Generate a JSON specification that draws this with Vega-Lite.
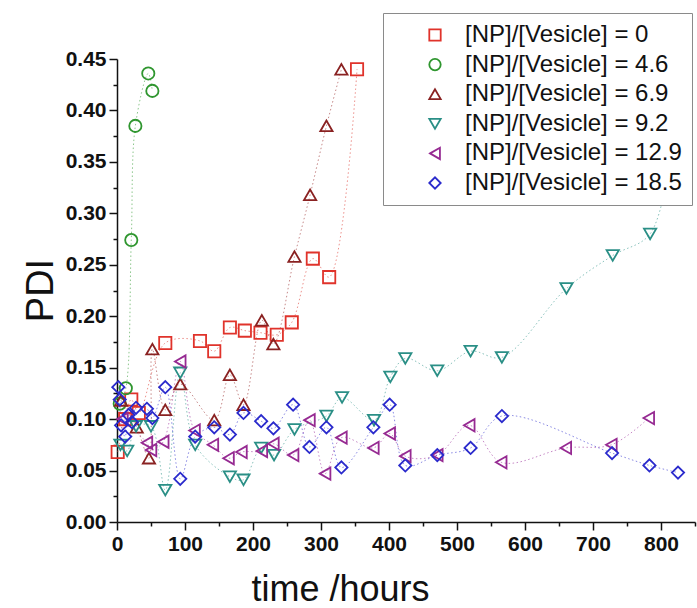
{
  "$schema": "https://vega.github.io/schema/vega-lite/v6.json",
  "width": 578,
  "height": 463,
  "autosize": {"type": "none"},
  "padding": {"left": 117, "top": 59, "right": 2, "bottom": 86},
  "background": "white",
  "config": {
    "view": {"stroke": null},
    "font": "Liberation Sans",
    "line": {"interpolate": "catmull-rom", "strokeDash": [1.5, 2.5], "strokeWidth": 1, "opacity": 0.6}
  },
  "datasets": {
    "pts": [
      {"s": "[NP]/[Vesicle] = 0", "t": 1, "pdi": 0.068},
      {"s": "[NP]/[Vesicle] = 0", "t": 12, "pdi": 0.1},
      {"s": "[NP]/[Vesicle] = 0", "t": 21, "pdi": 0.119},
      {"s": "[NP]/[Vesicle] = 0", "t": 32, "pdi": 0.106},
      {"s": "[NP]/[Vesicle] = 0", "t": 71, "pdi": 0.174},
      {"s": "[NP]/[Vesicle] = 0", "t": 122, "pdi": 0.176},
      {"s": "[NP]/[Vesicle] = 0", "t": 143, "pdi": 0.166},
      {"s": "[NP]/[Vesicle] = 0", "t": 166, "pdi": 0.189},
      {"s": "[NP]/[Vesicle] = 0", "t": 188, "pdi": 0.186},
      {"s": "[NP]/[Vesicle] = 0", "t": 211, "pdi": 0.184},
      {"s": "[NP]/[Vesicle] = 0", "t": 235, "pdi": 0.182},
      {"s": "[NP]/[Vesicle] = 0", "t": 257, "pdi": 0.194},
      {"s": "[NP]/[Vesicle] = 0", "t": 288, "pdi": 0.256},
      {"s": "[NP]/[Vesicle] = 0", "t": 312, "pdi": 0.238},
      {"s": "[NP]/[Vesicle] = 0", "t": 353, "pdi": 0.44},

      {"s": "[NP]/[Vesicle] = 4.6", "t": 4, "pdi": 0.115},
      {"s": "[NP]/[Vesicle] = 4.6", "t": 13, "pdi": 0.13},
      {"s": "[NP]/[Vesicle] = 4.6", "t": 21, "pdi": 0.274},
      {"s": "[NP]/[Vesicle] = 4.6", "t": 27, "pdi": 0.385},
      {"s": "[NP]/[Vesicle] = 4.6", "t": 46, "pdi": 0.436},
      {"s": "[NP]/[Vesicle] = 4.6", "t": 52, "pdi": 0.419},

      {"s": "[NP]/[Vesicle] = 6.9", "t": 6, "pdi": 0.118},
      {"s": "[NP]/[Vesicle] = 6.9", "t": 29, "pdi": 0.092},
      {"s": "[NP]/[Vesicle] = 6.9", "t": 47, "pdi": 0.062},
      {"s": "[NP]/[Vesicle] = 6.9", "t": 52, "pdi": 0.168},
      {"s": "[NP]/[Vesicle] = 6.9", "t": 71, "pdi": 0.109},
      {"s": "[NP]/[Vesicle] = 6.9", "t": 93, "pdi": 0.134},
      {"s": "[NP]/[Vesicle] = 6.9", "t": 143, "pdi": 0.099},
      {"s": "[NP]/[Vesicle] = 6.9", "t": 166, "pdi": 0.143},
      {"s": "[NP]/[Vesicle] = 6.9", "t": 186, "pdi": 0.114},
      {"s": "[NP]/[Vesicle] = 6.9", "t": 213, "pdi": 0.196},
      {"s": "[NP]/[Vesicle] = 6.9", "t": 230, "pdi": 0.173},
      {"s": "[NP]/[Vesicle] = 6.9", "t": 261, "pdi": 0.258},
      {"s": "[NP]/[Vesicle] = 6.9", "t": 284, "pdi": 0.318},
      {"s": "[NP]/[Vesicle] = 6.9", "t": 308, "pdi": 0.385},
      {"s": "[NP]/[Vesicle] = 6.9", "t": 330, "pdi": 0.44},

      {"s": "[NP]/[Vesicle] = 9.2", "t": 5, "pdi": 0.075},
      {"s": "[NP]/[Vesicle] = 9.2", "t": 15, "pdi": 0.069},
      {"s": "[NP]/[Vesicle] = 9.2", "t": 28, "pdi": 0.093},
      {"s": "[NP]/[Vesicle] = 9.2", "t": 50, "pdi": 0.093},
      {"s": "[NP]/[Vesicle] = 9.2", "t": 71, "pdi": 0.031},
      {"s": "[NP]/[Vesicle] = 9.2", "t": 93, "pdi": 0.145},
      {"s": "[NP]/[Vesicle] = 9.2", "t": 115, "pdi": 0.075},
      {"s": "[NP]/[Vesicle] = 9.2", "t": 166, "pdi": 0.044},
      {"s": "[NP]/[Vesicle] = 9.2", "t": 186, "pdi": 0.041},
      {"s": "[NP]/[Vesicle] = 9.2", "t": 212, "pdi": 0.072},
      {"s": "[NP]/[Vesicle] = 9.2", "t": 231, "pdi": 0.065},
      {"s": "[NP]/[Vesicle] = 9.2", "t": 261, "pdi": 0.09},
      {"s": "[NP]/[Vesicle] = 9.2", "t": 308, "pdi": 0.103},
      {"s": "[NP]/[Vesicle] = 9.2", "t": 331, "pdi": 0.121},
      {"s": "[NP]/[Vesicle] = 9.2", "t": 378, "pdi": 0.099},
      {"s": "[NP]/[Vesicle] = 9.2", "t": 402, "pdi": 0.141},
      {"s": "[NP]/[Vesicle] = 9.2", "t": 424, "pdi": 0.159},
      {"s": "[NP]/[Vesicle] = 9.2", "t": 471, "pdi": 0.147},
      {"s": "[NP]/[Vesicle] = 9.2", "t": 520, "pdi": 0.166},
      {"s": "[NP]/[Vesicle] = 9.2", "t": 566, "pdi": 0.16},
      {"s": "[NP]/[Vesicle] = 9.2", "t": 661, "pdi": 0.227},
      {"s": "[NP]/[Vesicle] = 9.2", "t": 729, "pdi": 0.259},
      {"s": "[NP]/[Vesicle] = 9.2", "t": 784, "pdi": 0.28},
      {"s": "[NP]/[Vesicle] = 9.2", "t": 815, "pdi": 0.36},

      {"s": "[NP]/[Vesicle] = 12.9", "t": 8, "pdi": 0.1},
      {"s": "[NP]/[Vesicle] = 12.9", "t": 44, "pdi": 0.077},
      {"s": "[NP]/[Vesicle] = 12.9", "t": 50, "pdi": 0.07},
      {"s": "[NP]/[Vesicle] = 12.9", "t": 68, "pdi": 0.078},
      {"s": "[NP]/[Vesicle] = 12.9", "t": 93, "pdi": 0.156},
      {"s": "[NP]/[Vesicle] = 12.9", "t": 114, "pdi": 0.089},
      {"s": "[NP]/[Vesicle] = 12.9", "t": 141, "pdi": 0.075},
      {"s": "[NP]/[Vesicle] = 12.9", "t": 164, "pdi": 0.062},
      {"s": "[NP]/[Vesicle] = 12.9", "t": 183, "pdi": 0.068},
      {"s": "[NP]/[Vesicle] = 12.9", "t": 213, "pdi": 0.069},
      {"s": "[NP]/[Vesicle] = 12.9", "t": 230, "pdi": 0.076},
      {"s": "[NP]/[Vesicle] = 12.9", "t": 259, "pdi": 0.065},
      {"s": "[NP]/[Vesicle] = 12.9", "t": 283, "pdi": 0.099},
      {"s": "[NP]/[Vesicle] = 12.9", "t": 306, "pdi": 0.047},
      {"s": "[NP]/[Vesicle] = 12.9", "t": 330, "pdi": 0.082},
      {"s": "[NP]/[Vesicle] = 12.9", "t": 377, "pdi": 0.072},
      {"s": "[NP]/[Vesicle] = 12.9", "t": 401, "pdi": 0.086},
      {"s": "[NP]/[Vesicle] = 12.9", "t": 424, "pdi": 0.064},
      {"s": "[NP]/[Vesicle] = 12.9", "t": 471, "pdi": 0.065},
      {"s": "[NP]/[Vesicle] = 12.9", "t": 518, "pdi": 0.094},
      {"s": "[NP]/[Vesicle] = 12.9", "t": 565, "pdi": 0.058},
      {"s": "[NP]/[Vesicle] = 12.9", "t": 660, "pdi": 0.072},
      {"s": "[NP]/[Vesicle] = 12.9", "t": 727, "pdi": 0.075},
      {"s": "[NP]/[Vesicle] = 12.9", "t": 782, "pdi": 0.101},

      {"s": "[NP]/[Vesicle] = 18.5", "t": 2, "pdi": 0.131},
      {"s": "[NP]/[Vesicle] = 18.5", "t": 4, "pdi": 0.119},
      {"s": "[NP]/[Vesicle] = 18.5", "t": 6, "pdi": 0.094},
      {"s": "[NP]/[Vesicle] = 18.5", "t": 12, "pdi": 0.083},
      {"s": "[NP]/[Vesicle] = 18.5", "t": 17, "pdi": 0.104},
      {"s": "[NP]/[Vesicle] = 18.5", "t": 22, "pdi": 0.097},
      {"s": "[NP]/[Vesicle] = 18.5", "t": 28, "pdi": 0.111},
      {"s": "[NP]/[Vesicle] = 18.5", "t": 44, "pdi": 0.11},
      {"s": "[NP]/[Vesicle] = 18.5", "t": 52, "pdi": 0.101},
      {"s": "[NP]/[Vesicle] = 18.5", "t": 71, "pdi": 0.131},
      {"s": "[NP]/[Vesicle] = 18.5", "t": 93, "pdi": 0.042},
      {"s": "[NP]/[Vesicle] = 18.5", "t": 115, "pdi": 0.083},
      {"s": "[NP]/[Vesicle] = 18.5", "t": 143, "pdi": 0.092},
      {"s": "[NP]/[Vesicle] = 18.5", "t": 166, "pdi": 0.085},
      {"s": "[NP]/[Vesicle] = 18.5", "t": 186, "pdi": 0.106},
      {"s": "[NP]/[Vesicle] = 18.5", "t": 212, "pdi": 0.098},
      {"s": "[NP]/[Vesicle] = 18.5", "t": 230, "pdi": 0.091},
      {"s": "[NP]/[Vesicle] = 18.5", "t": 259, "pdi": 0.114},
      {"s": "[NP]/[Vesicle] = 18.5", "t": 283, "pdi": 0.073},
      {"s": "[NP]/[Vesicle] = 18.5", "t": 308, "pdi": 0.092},
      {"s": "[NP]/[Vesicle] = 18.5", "t": 330, "pdi": 0.053},
      {"s": "[NP]/[Vesicle] = 18.5", "t": 377, "pdi": 0.092},
      {"s": "[NP]/[Vesicle] = 18.5", "t": 401, "pdi": 0.114},
      {"s": "[NP]/[Vesicle] = 18.5", "t": 424, "pdi": 0.055},
      {"s": "[NP]/[Vesicle] = 18.5", "t": 471, "pdi": 0.065},
      {"s": "[NP]/[Vesicle] = 18.5", "t": 520, "pdi": 0.072},
      {"s": "[NP]/[Vesicle] = 18.5", "t": 566, "pdi": 0.103},
      {"s": "[NP]/[Vesicle] = 18.5", "t": 728, "pdi": 0.067},
      {"s": "[NP]/[Vesicle] = 18.5", "t": 783, "pdi": 0.055},
      {"s": "[NP]/[Vesicle] = 18.5", "t": 825, "pdi": 0.048}
    ]
  },
  "data": {"name": "pts"},
  "encoding": {
    "x": {
      "field": "t", "type": "quantitative",
      "scale": {"domain": [0, 850], "nice": false, "zero": false},
      "axis": {
        "title": "time /hours",
        "titleFont": "Liberation Sans", "titleFontSize": 36, "titleFontWeight": "normal", "titleColor": "#111",
        "titleX": 223, "titleY": 78, "titleAlign": "center", "titleBaseline": "alphabetic",
        "values": [0, 50, 100, 150, 200, 250, 300, 350, 400, 450, 500, 550, 600, 650, 700, 750, 800, 850],
        "labelExpr": "datum.value % 100 === 0 ? datum.label : ''",
        "labelFont": "Liberation Sans", "labelFontSize": 21, "labelFontWeight": "bold", "labelColor": "#111",
        "labelPadding": 3, "labelFlush": false, "labelOverlap": false,
        "tickSize": {"condition": {"test": "datum.value % 100 === 0", "value": 8}, "value": 4},
        "tickColor": "#111", "tickWidth": 1.5, "domainColor": "#111", "domainWidth": 1.5,
        "grid": false, "format": "d"
      }
    },
    "y": {
      "field": "pdi", "type": "quantitative",
      "scale": {"domain": [0, 0.45], "nice": false},
      "axis": {
        "title": "PDI",
        "titleFont": "Liberation Sans", "titleFontSize": 38, "titleFontWeight": "normal", "titleColor": "#111",
        "titleX": -65, "titleY": 231, "titleAlign": "center", "titleBaseline": "alphabetic", "titleAngle": -90,
        "values": [0, 0.025, 0.05, 0.075, 0.1, 0.125, 0.15, 0.175, 0.2, 0.225, 0.25, 0.275, 0.3, 0.325, 0.35, 0.375, 0.4, 0.425, 0.45],
        "labelExpr": "round(datum.value*1000) % 50 === 0 ? format(datum.value, '.2f') : ''",
        "labelFont": "Liberation Sans", "labelFontSize": 21, "labelFontWeight": "bold", "labelColor": "#111",
        "labelPadding": 3, "labelFlush": false, "labelOverlap": false,
        "tickSize": {"condition": {"test": "round(datum.value*1000) % 50 === 0", "value": 8}, "value": 4},
        "tickColor": "#111", "tickWidth": 1.5, "domainColor": "#111", "domainWidth": 1.5,
        "grid": false
      }
    }
  },
  "layer": [
    {"transform": [{"filter": "datum.s === '[NP]/[Vesicle] = 0'"}], "mark": {"type": "line", "stroke": "#E0483F"}, "encoding": {}},
    {"transform": [{"filter": "datum.s === '[NP]/[Vesicle] = 4.6'"}], "mark": {"type": "line", "stroke": "#3FA03F"}, "encoding": {}},
    {"transform": [{"filter": "datum.s === '[NP]/[Vesicle] = 6.9'"}], "mark": {"type": "line", "stroke": "#A03A3A"}, "encoding": {}},
    {"transform": [{"filter": "datum.s === '[NP]/[Vesicle] = 9.2'"}], "mark": {"type": "line", "stroke": "#3A9A90"}, "encoding": {}},
    {"transform": [{"filter": "datum.s === '[NP]/[Vesicle] = 12.9'"}], "mark": {"type": "line", "stroke": "#A03AA0"}, "encoding": {}},
    {"transform": [{"filter": "datum.s === '[NP]/[Vesicle] = 18.5'"}], "mark": {"type": "line", "stroke": "#3A3AD0"}, "encoding": {}},
    {
      "mark": {"type": "point", "filled": false, "strokeWidth": 1.8, "size": 150, "opacity": 1},
      "encoding": {
        "color": {
          "field": "s", "type": "nominal",
          "scale": {
            "domain": ["[NP]/[Vesicle] = 0", "[NP]/[Vesicle] = 4.6", "[NP]/[Vesicle] = 6.9", "[NP]/[Vesicle] = 9.2", "[NP]/[Vesicle] = 12.9", "[NP]/[Vesicle] = 18.5"],
            "range": ["#E0332B", "#2F962F", "#8A2222", "#2A8F86", "#962A92", "#2A2ACC"]
          },
          "legend": {
            "title": null, "orient": "none", "legendX": 266, "legendY": -46,
            "padding": 10, "rowPadding": 5.6,
            "fillColor": "white", "strokeColor": "#8a8a8a",
            "labelFont": "Liberation Sans", "labelFontSize": 24, "labelColor": "#111",
            "labelLimit": 400, "symbolSize": 130, "symbolStrokeWidth": 1.8, "symbolFillColor": "transparent",
            "symbolOffset": 30, "labelOffset": 18
          }
        },
        "shape": {
          "field": "s", "type": "nominal",
          "scale": {
            "domain": ["[NP]/[Vesicle] = 0", "[NP]/[Vesicle] = 4.6", "[NP]/[Vesicle] = 6.9", "[NP]/[Vesicle] = 9.2", "[NP]/[Vesicle] = 12.9", "[NP]/[Vesicle] = 18.5"],
            "range": ["square", "circle", "triangle-up", "triangle-down", "triangle-left", "diamond"]
          },
          "legend": {
            "title": null, "orient": "none", "legendX": 266, "legendY": -46,
            "padding": 10, "rowPadding": 5.6,
            "fillColor": "white", "strokeColor": "#8a8a8a",
            "labelFont": "Liberation Sans", "labelFontSize": 24, "labelColor": "#111",
            "labelLimit": 400, "symbolSize": 130, "symbolStrokeWidth": 1.8, "symbolFillColor": "transparent",
            "symbolOffset": 30, "labelOffset": 18
          }
        }
      }
    }
  ]
}
